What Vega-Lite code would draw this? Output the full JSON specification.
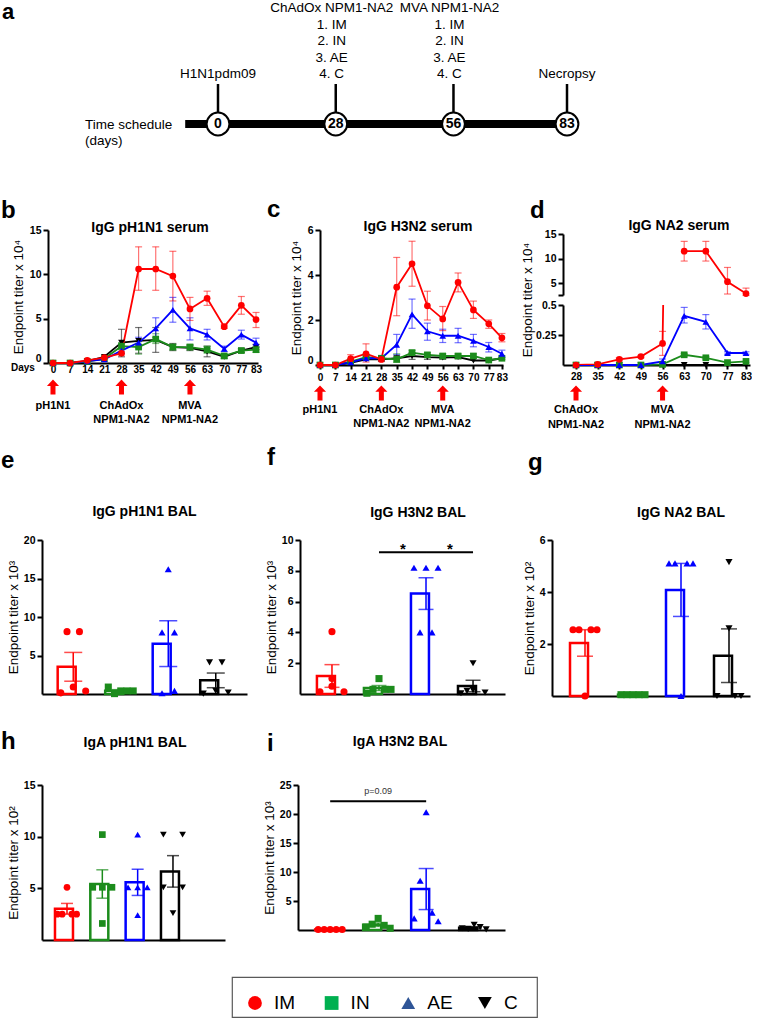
{
"$schema":"https://vega.github.io/schema/vega-lite/v6.json",
"background":"white",
"padding":0,
"spacing":0,
"bounds":"flush",
"resolve":{"scale":{"color":"independent","shape":"independent","stroke":"independent","xOffset":"independent"}},
"config":{
 "view":{"stroke":null},
 "font":"Liberation Sans",
 "axis":{"domainColor":"#000","domainWidth":2,"tickColor":"#000","tickWidth":2,"tickSize":5,"labelColor":"#000","labelFontWeight":"bold","labelFontSize":10.5,"labelFont":"Liberation Sans","grid":false,"titleColor":"#000","titleFont":"Liberation Sans","titleFontWeight":"normal","titleFontSize":13.5,"labelPadding":2,"labelFlush":false,"labelOverlap":false,"tickCount":50},
 "text":{"color":"#000"}
},
"datasets":{
 "tl":[{"day":0,"num":"0","top":"H1N1pdm09"},{"day":28,"num":"28","top":"ChAdOx NPM1-NA2\n1. IM\n2. IN\n3. AE\n4. C"},{"day":56,"num":"56","top":"MVA NPM1-NA2\n1. IM\n2. IN\n3. AE\n4. C"},{"day":83,"num":"83","top":"Necropsy"}],
 "arr_bc":[{"day":0,"label":"pH1N1"},{"day":28,"label":"ChAdOx\nNPM1-NA2"},{"day":56,"label":"MVA\nNPM1-NA2"}],
 "arr_d":[{"day":28,"label":"ChAdOx\nNPM1-NA2"},{"day":56,"label":"MVA\nNPM1-NA2"}],
 "b":[
  {"day":0,"g":"C","v":0},{"day":7,"g":"C","v":0},{"day":14,"g":"C","v":0.2},{"day":21,"g":"C","v":0.7},{"day":28,"g":"C","v":2.3,"lo":0.7,"hi":3.8},{"day":35,"g":"C","v":2.5,"lo":1.1,"hi":4.0},{"day":42,"g":"C","v":2.6,"lo":1.2,"hi":4.0},{"day":49,"g":"C","v":1.8,"lo":1.4,"hi":2.2},{"day":56,"g":"C","v":1.7,"lo":1.4,"hi":2.0},{"day":63,"g":"C","v":1.3,"lo":0.7,"hi":1.9},{"day":70,"g":"C","v":0.7,"lo":0.5,"hi":0.9},{"day":77,"g":"C","v":1.4,"lo":1.2,"hi":1.6},{"day":83,"g":"C","v":1.8,"lo":1.5,"hi":2.1},
  {"day":0,"g":"IN","v":0},{"day":7,"g":"IN","v":0},{"day":14,"g":"IN","v":0.15},{"day":21,"g":"IN","v":0.5},{"day":28,"g":"IN","v":1.9,"lo":1.5,"hi":2.3},{"day":35,"g":"IN","v":1.8,"lo":1.0,"hi":2.4},{"day":42,"g":"IN","v":2.7,"lo":2.2,"hi":3.3},{"day":49,"g":"IN","v":1.8,"lo":1.5,"hi":2.1},{"day":56,"g":"IN","v":1.8,"lo":1.5,"hi":2.1},{"day":63,"g":"IN","v":1.5,"lo":1.1,"hi":1.9},{"day":70,"g":"IN","v":0.8,"lo":0.6,"hi":1.0},{"day":77,"g":"IN","v":1.4,"lo":1.2,"hi":1.6},{"day":83,"g":"IN","v":1.5,"lo":1.2,"hi":1.8},
  {"day":0,"g":"AE","v":0},{"day":7,"g":"AE","v":0},{"day":14,"g":"AE","v":0.2},{"day":21,"g":"AE","v":0.4},{"day":28,"g":"AE","v":1.4,"lo":1.1,"hi":1.7},{"day":35,"g":"AE","v":2.3,"lo":1.7,"hi":2.9},{"day":42,"g":"AE","v":3.9,"lo":2.6,"hi":5.1},{"day":49,"g":"AE","v":6.0,"lo":4.6,"hi":7.4},{"day":56,"g":"AE","v":3.9,"lo":2.6,"hi":5.1},{"day":63,"g":"AE","v":3.2,"lo":2.6,"hi":3.8},{"day":70,"g":"AE","v":1.6,"lo":1.3,"hi":1.9},{"day":77,"g":"AE","v":3.2,"lo":2.7,"hi":3.7},{"day":83,"g":"AE","v":2.3,"lo":1.8,"hi":2.8},
  {"day":0,"g":"IM","v":0},{"day":7,"g":"IM","v":0},{"day":14,"g":"IM","v":0.3},{"day":21,"g":"IM","v":0.6},{"day":28,"g":"IM","v":1.1,"lo":0.9,"hi":1.3},{"day":35,"g":"IM","v":10.6,"lo":8.2,"hi":13.1},{"day":42,"g":"IM","v":10.6,"lo":8.2,"hi":13.1},{"day":49,"g":"IM","v":9.8,"lo":7.0,"hi":12.6},{"day":56,"g":"IM","v":6.1,"lo":4.8,"hi":7.4},{"day":63,"g":"IM","v":7.3,"lo":6.5,"hi":8.1},{"day":70,"g":"IM","v":4.1,"lo":3.9,"hi":4.3},{"day":77,"g":"IM","v":6.5,"lo":5.5,"hi":7.5},{"day":83,"g":"IM","v":4.9,"lo":4.0,"hi":5.7}
 ],
 "c":[
  {"day":0,"g":"C","v":0},{"day":7,"g":"C","v":0},{"day":14,"g":"C","v":0.1},{"day":21,"g":"C","v":0.25},{"day":28,"g":"C","v":0.25},{"day":35,"g":"C","v":0.3},{"day":42,"g":"C","v":0.4,"lo":0.25,"hi":0.55},{"day":49,"g":"C","v":0.35,"lo":0.25,"hi":0.45},{"day":56,"g":"C","v":0.33,"lo":0.25,"hi":0.42},{"day":63,"g":"C","v":0.35,"lo":0.28,"hi":0.42},{"day":70,"g":"C","v":0.2},{"day":77,"g":"C","v":0.2},{"day":83,"g":"C","v":0.3},
  {"day":0,"g":"IN","v":0},{"day":7,"g":"IN","v":0},{"day":14,"g":"IN","v":0.15},{"day":21,"g":"IN","v":0.35},{"day":28,"g":"IN","v":0.3},{"day":35,"g":"IN","v":0.25,"lo":0.12,"hi":0.5},{"day":42,"g":"IN","v":0.55,"lo":0.45,"hi":0.65},{"day":49,"g":"IN","v":0.45,"lo":0.35,"hi":0.55},{"day":56,"g":"IN","v":0.4,"lo":0.3,"hi":0.5},{"day":63,"g":"IN","v":0.4,"lo":0.3,"hi":0.5},{"day":70,"g":"IN","v":0.4,"lo":0.3,"hi":0.5},{"day":77,"g":"IN","v":0.22,"lo":0.18,"hi":0.26},{"day":83,"g":"IN","v":0.3,"lo":0.25,"hi":0.35},
  {"day":0,"g":"AE","v":0},{"day":7,"g":"AE","v":0},{"day":14,"g":"AE","v":0.12},{"day":21,"g":"AE","v":0.3},{"day":28,"g":"AE","v":0.3},{"day":35,"g":"AE","v":0.9,"lo":0.46,"hi":1.36},{"day":42,"g":"AE","v":2.25,"lo":1.63,"hi":2.93},{"day":49,"g":"AE","v":1.5,"lo":1.1,"hi":1.86},{"day":56,"g":"AE","v":1.3,"lo":1.0,"hi":1.59},{"day":63,"g":"AE","v":1.3,"lo":0.99,"hi":1.63},{"day":70,"g":"AE","v":1.07,"lo":0.81,"hi":1.36},{"day":77,"g":"AE","v":0.8,"lo":0.58,"hi":1.0},{"day":83,"g":"AE","v":0.5,"lo":0.33,"hi":0.66},
  {"day":0,"g":"IM","v":0},{"day":7,"g":"IM","v":0},{"day":14,"g":"IM","v":0.28,"lo":0.18,"hi":0.46},{"day":21,"g":"IM","v":0.5,"lo":0.13,"hi":0.94},{"day":28,"g":"IM","v":0.25,"lo":0.15,"hi":0.35},{"day":35,"g":"IM","v":3.46,"lo":2.19,"hi":4.78},{"day":42,"g":"IM","v":4.5,"lo":3.5,"hi":5.5},{"day":49,"g":"IM","v":2.63,"lo":2.0,"hi":3.28},{"day":56,"g":"IM","v":2.05,"lo":1.53,"hi":2.6},{"day":63,"g":"IM","v":3.67,"lo":3.25,"hi":4.09},{"day":70,"g":"IM","v":2.45,"lo":2.07,"hi":2.84},{"day":77,"g":"IM","v":1.83,"lo":1.63,"hi":2.0},{"day":83,"g":"IM","v":1.21,"lo":1.03,"hi":1.4}
 ],
 "d":[
  {"day":28,"g":"C","v":0},{"day":35,"g":"C","v":0},{"day":42,"g":"C","v":0},{"day":49,"g":"C","v":0},{"day":56,"g":"C","v":0},{"day":63,"g":"C","v":0},{"day":70,"g":"C","v":0},{"day":77,"g":"C","v":0},{"day":83,"g":"C","v":0},
  {"day":28,"g":"IN","v":0},{"day":35,"g":"IN","v":0},{"day":42,"g":"IN","v":0},{"day":49,"g":"IN","v":0},{"day":56,"g":"IN","v":0.005},{"day":63,"g":"IN","v":0.085,"lo":0.075,"hi":0.095},{"day":70,"g":"IN","v":0.06,"lo":0.05,"hi":0.07},{"day":77,"g":"IN","v":0.02},{"day":83,"g":"IN","v":0.03},
  {"day":28,"g":"AE","v":0},{"day":35,"g":"AE","v":0},{"day":42,"g":"AE","v":0},{"day":49,"g":"AE","v":0},{"day":56,"g":"AE","v":0.03,"lo":0.01,"hi":0.05},{"day":63,"g":"AE","v":0.41,"lo":0.35,"hi":0.48},{"day":70,"g":"AE","v":0.36,"lo":0.3,"hi":0.42},{"day":77,"g":"AE","v":0.1,"lo":0.09,"hi":0.11},{"day":83,"g":"AE","v":0.1,"lo":0.09,"hi":0.11},
  {"day":28,"g":"IM","v":0},{"day":35,"g":"IM","v":0.006},{"day":42,"g":"IM","v":0.047,"lo":0.035,"hi":0.06},{"day":49,"g":"IM","v":0.07,"lo":0.06,"hi":0.08},{"day":56,"g":"IM","v":0.18,"lo":0.08,"hi":0.28},{"day":63,"g":"IM","v":11.5,"lo":9.5,"hi":13.5},{"day":70,"g":"IM","v":11.5,"lo":9.5,"hi":13.5},{"day":77,"g":"IM","v":5.3,"lo":2.8,"hi":8.2},{"day":83,"g":"IM","v":2.9,"lo":2.5,"hi":4.0}
 ],
 "e":[
  {"g":"IM","k":0,"v":0.15},{"g":"IM","k":1,"v":8.1},{"g":"IM","k":2,"v":0.9},{"g":"IM","k":3,"v":8.1},{"g":"IM","k":4,"v":0.4},
  {"g":"IN","k":0,"v":0.9},{"g":"IN","k":1,"v":0.05},{"g":"IN","k":2,"v":0.4},{"g":"IN","k":3,"v":0.4},{"g":"IN","k":4,"v":0.4},
  {"g":"AE","k":2,"v":16.2},{"g":"AE","k":1,"v":8.0},{"g":"AE","k":3,"v":8.0},{"g":"AE","k":1,"v":0.1},{"g":"AE","k":3,"v":0.4},
  {"g":"C","k":1,"v":4.1},{"g":"C","k":3,"v":4.1},{"g":"C","k":0,"v":0.05},{"g":"C","k":2,"v":0.4},{"g":"C","k":4,"v":0.2}
 ],
 "f":[
  {"g":"IM","k":2,"v":4.05},{"g":"IM","k":2,"v":1.0},{"g":"IM","k":2,"v":0.5},{"g":"IM","k":0,"v":0.15},{"g":"IM","k":4,"v":0.15},
  {"g":"IN","k":2,"v":1.0},{"g":"IN","k":0,"v":0.05},{"g":"IN","k":1,"v":0.3},{"g":"IN","k":3,"v":0.3},{"g":"IN","k":4,"v":0.3},
  {"g":"AE","k":0,"v":8.2},{"g":"AE","k":2,"v":8.2},{"g":"AE","k":4,"v":8.2},{"g":"AE","k":1,"v":4.0},{"g":"AE","k":3,"v":4.0},
  {"g":"C","k":2,"v":2.0},{"g":"C","k":0,"v":0.05},{"g":"C","k":2,"v":0.25},{"g":"C","k":4,"v":0.1},{"g":"C","k":1,"v":0.2}
 ],
 "g":[
  {"g":"IM","k":0,"v":2.55},{"g":"IM","k":1,"v":2.55},{"g":"IM","k":3,"v":2.55},{"g":"IM","k":4,"v":2.55},{"g":"IM","k":2,"v":0.0},
  {"g":"IN","k":0,"v":0.05},{"g":"IN","k":1,"v":0.05},{"g":"IN","k":2,"v":0.05},{"g":"IN","k":3,"v":0.05},{"g":"IN","k":4,"v":0.05},
  {"g":"AE","k":0,"v":5.1},{"g":"AE","k":1,"v":5.1},{"g":"AE","k":3,"v":5.1},{"g":"AE","k":4,"v":5.1},{"g":"AE","k":2,"v":0.0},
  {"g":"C","k":2,"v":5.15},{"g":"C","k":2,"v":2.6},{"g":"C","k":0,"v":0.0},{"g":"C","k":3,"v":0.0},{"g":"C","k":4,"v":0.0}
 ],
 "h":[
  {"g":"IM","k":2,"v":5.1},{"g":"IM","k":0,"v":2.5},{"g":"IM","k":1,"v":2.5},{"g":"IM","k":3,"v":2.5},{"g":"IM","k":4,"v":2.5},
  {"g":"IN","k":2,"v":10.2},{"g":"IN","k":0,"v":5.1},{"g":"IN","k":2,"v":5.1},{"g":"IN","k":4,"v":5.1},{"g":"IN","k":2,"v":1.6},
  {"g":"AE","k":2,"v":10.2},{"g":"AE","k":0,"v":5.1},{"g":"AE","k":2,"v":5.1},{"g":"AE","k":4,"v":5.1},{"g":"AE","k":2,"v":2.4},
  {"g":"C","k":0,"v":10.2},{"g":"C","k":4,"v":10.2},{"g":"C","k":0,"v":5.1},{"g":"C","k":4,"v":5.1},{"g":"C","k":2,"v":2.6}
 ],
 "i":[
  {"g":"IM","k":0,"v":0.1},{"g":"IM","k":1,"v":0.1},{"g":"IM","k":2,"v":0.1},{"g":"IM","k":3,"v":0.1},{"g":"IM","k":4,"v":0.1},
  {"g":"IN","k":2,"v":2.0},{"g":"IN","k":0,"v":0.5},{"g":"IN","k":1,"v":1.0},{"g":"IN","k":3,"v":0.8},{"g":"IN","k":4,"v":0.3},
  {"g":"AE","k":2,"v":20.3},{"g":"AE","k":1,"v":8.5},{"g":"AE","k":3,"v":3.0},{"g":"AE","k":0,"v":2.0},{"g":"AE","k":4,"v":1.5},
  {"g":"C","k":2,"v":0.9},{"g":"C","k":0,"v":0.3},{"g":"C","k":1,"v":0.2},{"g":"C","k":3,"v":0.5},{"g":"C","k":4,"v":0.1}
 ],
 "sig_f":[{"from":"IN","to":"AE","v":9.2},{"from":"AE","to":"C","v":9.2}],
 "sig_i":[{"from":"IM","to":"AE","mid":"IN","v":22.2,"t":"p=0.09"}],
 "leg":[{"g":"IM","i":0},{"g":"IN","i":1},{"g":"AE","i":2},{"g":"C","i":3}]
},
"vconcat":[
 {"width":601,"height":230,"layer":[
  {"data":{"values":[{"from":-7.8,"to":83}]},"mark":{"type":"rule","strokeWidth":8,"color":"#000"},"encoding":{"x":{"field":"from","type":"quantitative","scale":{"domain":[-51.845,91.085],"nice":false,"zero":false},"axis":null},"x2":{"field":"to"},"y":{"datum":0,"type":"quantitative","scale":{"domain":[-3.533,4.133],"nice":false,"zero":false},"axis":null}}},
  {"data":{"name":"tl"},"mark":{"type":"rule","strokeWidth":2.5,"color":"#000"},"encoding":{"x":{"field":"day","type":"quantitative"},"y":{"datum":0},"y2":{"datum":1.333}}},
  {"data":{"name":"tl"},"mark":{"type":"point","shape":"circle","size":520,"fill":"white","stroke":"#000","strokeWidth":2,"opacity":1},"encoding":{"x":{"field":"day","type":"quantitative"},"y":{"datum":0}}},
  {"data":{"name":"tl"},"mark":{"type":"text","fontSize":14,"fontWeight":"bold"},"encoding":{"x":{"field":"day","type":"quantitative"},"y":{"datum":0},"text":{"field":"num"}}},
  {"data":{"name":"tl"},"transform":[{"filter":"datum.day == 28 || datum.day == 56"}],"mark":{"type":"text","fontSize":13.5,"baseline":"top","lineBreak":"\n","lineHeight":16.5,"dx":-4},"encoding":{"x":{"field":"day","type":"quantitative"},"y":{"datum":4.09},"text":{"field":"top"}}},
  {"data":{"name":"tl"},"transform":[{"filter":"datum.day == 0 || datum.day == 83"}],"mark":{"type":"text","fontSize":13.5,"baseline":"middle"},"encoding":{"x":{"field":"day","type":"quantitative"},"y":{"datum":1.667},"text":{"field":"top"}}},
  {"data":{"values":[{}]},"mark":{"type":"text","text":["Time schedule","(days)"],"fontSize":13.5,"align":"left","baseline":"top","lineHeight":16},"encoding":{"x":{"datum":-31.63},"y":{"datum":0.2}}},
  {"data":{"values":[{}]},"mark":{"type":"text","text":"a","fontSize":22,"fontWeight":"bold","align":"left","baseline":"top"},"encoding":{"x":{"datum":-51.37},"y":{"datum":4.08}}}
 ]},
 {"hconcat":[
  {"width":48,"height":1,"data":{"values":[]},"mark":"point"},
  {"width":210,"height":133,"layer":[
   {"data":{"name":"b"},"transform":[{"filter":"datum.lo != null"}],"mark":{"type":"errorbar","ticks":{"size":7},"thickness":1.2,"opacity":0.55},"encoding":{"x":{"field":"day","type":"quantitative","title":null,"scale":{"domain":[-2.04,83.81],"nice":false,"zero":false},"axis":{"values":[0,7,14,21,28,35,42,49,56,63,70,77,83],"tickCount":50,"ticks":false,"labelPadding":1,"labelFontSize":10,"labelOverlap":false}},"y":{"field":"lo","type":"quantitative","title":"Endpoint titer x 10⁴","scale":{"domain":[0,15],"nice":false,"zero":false},"axis":{"values":[0,5,10,15],"tickCount":50,"format":"d","titlePadding":4,"titleColor":"#000","labelColor":"#000","labelBaseline":{"condition":{"test":"datum.value == 0","value":"bottom"},"value":"middle"}}},"y2":{"field":"hi"},"color":{"field":"g","type":"nominal","scale":{"domain":["IM","IN","AE","C"],"range":["#ff0000","#1c8c1c","#0000ff","#000000"]},"legend":null}}},
   {"data":{"name":"b"},"mark":{"type":"line","strokeWidth":1.8},"encoding":{"x":{"field":"day","type":"quantitative","title":null},"y":{"field":"v","type":"quantitative","title":"Endpoint titer x 10⁴"},"color":{"field":"g","type":"nominal","scale":{"domain":["IM","IN","AE","C"],"range":["#ff0000","#1c8c1c","#0000ff","#000000"]},"legend":null}}},
   {"data":{"name":"b"},"mark":{"type":"point","filled":true,"size":45,"opacity":1},"encoding":{"x":{"field":"day","type":"quantitative","title":null},"y":{"field":"v","type":"quantitative","title":"Endpoint titer x 10⁴"},"color":{"field":"g","type":"nominal","scale":{"domain":["IM","IN","AE","C"],"range":["#ff0000","#1c8c1c","#0000ff","#000000"]},"legend":null},"shape":{"field":"g","type":"nominal","scale":{"domain":["IM","IN","AE","C"],"range":["circle","square","triangle-up","triangle-down"]},"legend":null}}},
   {"data":{"name":"arr_bc"},"mark":{"type":"point","shape":"M0,-1L0.8,-0.15L0.33,-0.15L0.33,1L-0.33,1L-0.33,-0.15L-0.8,-0.15Z","filled":true,"color":"#ff0000","size":230,"opacity":1},"encoding":{"x":{"field":"day","type":"quantitative","title":null},"y":{"datum":-2.71}}},
   {"data":{"name":"arr_bc"},"mark":{"type":"text","baseline":"top","fontSize":11,"fontWeight":"bold","lineBreak":"\n","lineHeight":14.5},"encoding":{"x":{"field":"day","type":"quantitative","title":null},"y":{"datum":-4.17},"text":{"field":"label"}}},
   {"data":{"values":[{}]},"mark":{"type":"text","text":"IgG pH1N1 serum","fontSize":14,"fontWeight":"bold"},"encoding":{"x":{"datum":39.66},"y":{"datum":15.23}}},
   {"data":{"values":[{}]},"mark":{"type":"text","text":"b","fontSize":24,"fontWeight":"bold","align":"left"},"encoding":{"x":{"datum":-21.25},"y":{"datum":17.14}}},
   {"data":{"values":[{}]},"mark":{"type":"text","text":"Days","fontSize":10,"fontWeight":"bold","align":"right"},"encoding":{"x":{"datum":-7.4},"y":{"datum":-0.6}}}
  ]},
  {"width":62,"height":1,"data":{"values":[]},"mark":"point"},
  {"width":183,"height":135,"layer":[
   {"data":{"name":"c"},"transform":[{"filter":"datum.lo != null"}],"mark":{"type":"errorbar","ticks":{"size":7},"thickness":1.2,"opacity":0.55},"encoding":{"x":{"field":"day","type":"quantitative","title":null,"scale":{"domain":[0,83.5],"nice":false,"zero":false},"axis":{"values":[0,7,14,21,28,35,42,49,56,63,70,77,83],"tickCount":50,"ticks":true,"tickSize":4,"labelPadding":3,"labelFontSize":10,"labelOverlap":false}},"y":{"field":"lo","type":"quantitative","title":"Endpoint titer x 10⁴","scale":{"domain":[0,6],"nice":false,"zero":false},"axis":{"values":[0,2,4,6],"tickCount":50,"format":"d","titlePadding":4,"titleColor":"#000","labelColor":"#000","labelBaseline":{"condition":{"test":"datum.value == 0","value":"bottom"},"value":"middle"}}},"y2":{"field":"hi"},"color":{"field":"g","type":"nominal","scale":{"domain":["IM","IN","AE","C"],"range":["#ff0000","#1c8c1c","#0000ff","#000000"]},"legend":null}}},
   {"data":{"name":"c"},"mark":{"type":"line","strokeWidth":1.8},"encoding":{"x":{"field":"day","type":"quantitative","title":null},"y":{"field":"v","type":"quantitative","title":"Endpoint titer x 10⁴"},"color":{"field":"g","type":"nominal","scale":{"domain":["IM","IN","AE","C"],"range":["#ff0000","#1c8c1c","#0000ff","#000000"]},"legend":null}}},
   {"data":{"name":"c"},"mark":{"type":"point","filled":true,"size":45,"opacity":1},"encoding":{"x":{"field":"day","type":"quantitative","title":null},"y":{"field":"v","type":"quantitative","title":"Endpoint titer x 10⁴"},"color":{"field":"g","type":"nominal","scale":{"domain":["IM","IN","AE","C"],"range":["#ff0000","#1c8c1c","#0000ff","#000000"]},"legend":null},"shape":{"field":"g","type":"nominal","scale":{"domain":["IM","IN","AE","C"],"range":["circle","square","triangle-up","triangle-down"]},"legend":null}}},
   {"data":{"name":"arr_bc"},"mark":{"type":"point","shape":"M0,-1L0.8,-0.15L0.33,-0.15L0.33,1L-0.33,1L-0.33,-0.15L-0.8,-0.15Z","filled":true,"color":"#ff0000","size":230,"opacity":1},"encoding":{"x":{"field":"day","type":"quantitative","title":null},"y":{"datum":-1.244}}},
   {"data":{"name":"arr_bc"},"mark":{"type":"text","baseline":"top","fontSize":11,"fontWeight":"bold","lineBreak":"\n","lineHeight":14.5},"encoding":{"x":{"field":"day","type":"quantitative","title":null},"y":{"datum":-1.733},"text":{"field":"label"}}},
   {"data":{"values":[{}]},"mark":{"type":"text","text":"IgG H3N2 serum","fontSize":14,"fontWeight":"bold"},"encoding":{"x":{"datum":44.7},"y":{"datum":6.13}}},
   {"data":{"values":[{}]},"mark":{"type":"text","text":"c","fontSize":24,"fontWeight":"bold","align":"left"},"encoding":{"x":{"datum":-24.2},"y":{"datum":6.89}}}
  ]},
  {"width":60,"height":1,"data":{"values":[]},"mark":"point"},
  {"vconcat":[
   {"width":1,"height":4,"data":{"values":[]},"mark":"point"},
   {"width":187,"height":61,"layer":[
    {"data":{"name":"d"},"transform":[{"filter":"datum.g == 'IM' && datum.day >= 63"}],"mark":{"type":"errorbar","ticks":{"size":7},"thickness":1.2,"opacity":0.55},"encoding":{"x":{"field":"day","type":"quantitative","title":null,"scale":{"domain":[23.79,84.29],"nice":false,"zero":false},"axis":null},"y":{"field":"lo","type":"quantitative","title":null,"scale":{"domain":[2.6,15],"nice":false,"zero":false},"axis":{"values":[2.6,5,10,15],"tickCount":50,"labelColor":"#000","labelExpr":"datum.value < 3 ? '' : format(datum.value, 'd')"}},"y2":{"field":"hi"},"color":{"field":"g","type":"nominal","scale":{"domain":["IM","IN","AE","C"],"range":["#ff0000","#1c8c1c","#0000ff","#000000"]},"legend":null}}},
    {"data":{"name":"d"},"transform":[{"filter":"datum.g == 'IM' && datum.day >= 63"}],"mark":{"type":"line","strokeWidth":1.8},"encoding":{"x":{"field":"day","type":"quantitative","title":null},"y":{"field":"v","type":"quantitative","title":null},"color":{"field":"g","type":"nominal","scale":{"domain":["IM","IN","AE","C"],"range":["#ff0000","#1c8c1c","#0000ff","#000000"]},"legend":null}}},
    {"data":{"name":"d"},"transform":[{"filter":"datum.g == 'IM' && datum.day >= 63"}],"mark":{"type":"point","filled":true,"size":45,"opacity":1},"encoding":{"x":{"field":"day","type":"quantitative","title":null},"y":{"field":"v","type":"quantitative","title":null},"color":{"field":"g","type":"nominal","scale":{"domain":["IM","IN","AE","C"],"range":["#ff0000","#1c8c1c","#0000ff","#000000"]},"legend":null},"shape":{"field":"g","type":"nominal","scale":{"domain":["IM","IN","AE","C"],"range":["circle","square","triangle-up","triangle-down"]},"legend":null}}},
    {"data":{"values":[{}]},"mark":{"type":"text","text":"IgG NA2 serum","fontSize":14,"fontWeight":"bold"},"encoding":{"x":{"datum":61.3},"y":{"datum":16.63}}},
    {"data":{"values":[{}]},"mark":{"type":"text","text":"d","fontSize":24,"fontWeight":"bold","align":"left"},"encoding":{"x":{"datum":13.1},"y":{"datum":19.68}}}
   ]},
   {"width":1,"height":10,"data":{"values":[]},"mark":"point"},
   {"width":187,"height":60,"layer":[
    {"data":{"name":"d"},"transform":[{"filter":"datum.lo != null && datum.hi <= 0.5"}],"mark":{"type":"errorbar","ticks":{"size":7},"thickness":1.2,"opacity":0.55},"encoding":{"x":{"field":"day","type":"quantitative","title":null,"scale":{"domain":[23.79,84.29],"nice":false,"zero":false},"axis":{"values":[28,35,42,49,56,63,70,77,83],"tickCount":50,"ticks":true,"tickSize":4,"labelPadding":2,"labelFontSize":10,"labelOverlap":false}},"y":{"field":"lo","type":"quantitative","title":null,"scale":{"domain":[0,0.5],"nice":false,"zero":false},"axis":{"values":[0.25,0.5],"tickCount":50,"labelColor":"#000","labelExpr":"datum.value == 0.5 ? '0.5' : '0.25'"}},"y2":{"field":"hi"},"color":{"field":"g","type":"nominal","scale":{"domain":["IM","IN","AE","C"],"range":["#ff0000","#1c8c1c","#0000ff","#000000"]},"legend":null}}},
    {"data":{"name":"d"},"transform":[{"filter":"datum.g != 'IM'"}],"mark":{"type":"line","strokeWidth":1.8},"encoding":{"x":{"field":"day","type":"quantitative","title":null},"y":{"field":"v","type":"quantitative","title":null},"color":{"field":"g","type":"nominal","scale":{"domain":["IM","IN","AE","C"],"range":["#ff0000","#1c8c1c","#0000ff","#000000"]},"legend":null}}},
    {"data":{"name":"d"},"transform":[{"filter":"datum.g == 'IM' && datum.day <= 63"}],"mark":{"type":"line","strokeWidth":1.8,"clip":true},"encoding":{"x":{"field":"day","type":"quantitative","title":null},"y":{"field":"v","type":"quantitative","title":null},"color":{"field":"g","type":"nominal","scale":{"domain":["IM","IN","AE","C"],"range":["#ff0000","#1c8c1c","#0000ff","#000000"]},"legend":null}}},
    {"data":{"name":"d"},"transform":[{"filter":"datum.v <= 0.5"}],"mark":{"type":"point","filled":true,"size":45,"opacity":1},"encoding":{"x":{"field":"day","type":"quantitative","title":null},"y":{"field":"v","type":"quantitative","title":null},"color":{"field":"g","type":"nominal","scale":{"domain":["IM","IN","AE","C"],"range":["#ff0000","#1c8c1c","#0000ff","#000000"]},"legend":null},"shape":{"field":"g","type":"nominal","scale":{"domain":["IM","IN","AE","C"],"range":["circle","square","triangle-up","triangle-down"]},"legend":null}}},
    {"data":{"name":"arr_d"},"mark":{"type":"point","shape":"M0,-1L0.8,-0.15L0.33,-0.15L0.33,1L-0.33,1L-0.33,-0.15L-0.8,-0.15Z","filled":true,"color":"#ff0000","size":230,"opacity":1},"encoding":{"x":{"field":"day","type":"quantitative","title":null},"y":{"datum":-0.233}}},
    {"data":{"name":"arr_d"},"mark":{"type":"text","baseline":"top","fontSize":11,"fontWeight":"bold","lineBreak":"\n","lineHeight":14.5},"encoding":{"x":{"field":"day","type":"quantitative","title":null},"y":{"datum":-0.325},"text":{"field":"label"}}},
    {"data":{"values":[{}]},"mark":{"type":"text","text":"Endpoint titer x 10⁴","fontSize":13.5,"angle":270,"color":"#000"},"encoding":{"x":{"datum":12.46},"y":{"datum":0.542}}}
   ]}
  ],"spacing":0,"bounds":"flush","resolve":{"scale":{"color":"independent","shape":"independent","xOffset":"independent"}}}
 ],"spacing":0,"bounds":"flush","resolve":{"scale":{"color":"independent","shape":"independent","xOffset":"independent"}}},
 {"width":1,"height":310,"data":{"values":[]},"mark":"point"},
 {"hconcat":[
  {"width":42,"height":1,"data":{"values":[]},"mark":"point"},
  {"width":205,"height":154,"data":{"name":"e"},"layer":[
   {"mark":{"type":"bar","fill":"white","strokeWidth":2.5},"encoding":{"x":{"field":"g","type":"nominal","title":null,"scale":{"domain":["IM","IN","AE","C"],"paddingInner":0.345,"paddingOuter":0.33,"align":0.5},"axis":{"labels":false,"ticks":false}},"y":{"aggregate":"mean","field":"v","type":"quantitative","title":"Endpoint titer x 10³","scale":{"domain":[0,20],"nice":false},"axis":{"values":[5,10,15,20],"tickCount":50,"format":"d","titlePadding":3,"titleColor":"#000","labelColor":"#000"}},"stroke":{"field":"g","type":"nominal","scale":{"domain":["IM","IN","AE","C"],"range":["#ff0000","#1c8c1c","#0000ff","#000000"]},"legend":null}}},
   {"mark":{"type":"errorbar","extent":"stderr","ticks":{"size":18},"thickness":1.5},"encoding":{"x":{"field":"g","type":"nominal","title":null},"y":{"field":"v","type":"quantitative","title":"Endpoint titer x 10³"},"color":{"field":"g","type":"nominal","scale":{"domain":["IM","IN","AE","C"],"range":["#ff0000","#1c8c1c","#0000ff","#000000"]},"legend":null}}},
   {"mark":{"type":"point","filled":true,"size":50,"opacity":1},"encoding":{"x":{"field":"g","type":"nominal","title":null},"xOffset":{"field":"k","type":"ordinal","scale":{"domain":[0,1,2,3,4]}},"y":{"field":"v","type":"quantitative","title":"Endpoint titer x 10³"},"color":{"field":"g","type":"nominal","scale":{"domain":["IM","IN","AE","C"],"range":["#ff0000","#1c8c1c","#0000ff","#000000"]},"legend":null},"shape":{"field":"g","type":"nominal","scale":{"domain":["IM","IN","AE","C"],"range":["circle","square","triangle-up","triangle-down"]},"legend":null}}},
   {"data":{"values":[{}]},"mark":{"type":"text","text":"IgG pH1N1 BAL","fontSize":14,"fontWeight":"bold"},"encoding":{"y":{"datum":23.64}}},
   {"data":{"values":[{}]},"mark":{"type":"text","text":"e","fontSize":24,"fontWeight":"bold","align":"left","dx":-143.5},"encoding":{"y":{"datum":30.26}}}
  ]},
  {"width":53,"height":1,"data":{"values":[]},"mark":"point"},
  {"width":205,"height":154,"data":{"name":"f"},"layer":[
   {"mark":{"type":"bar","fill":"white","strokeWidth":2.5},"encoding":{"x":{"field":"g","type":"nominal","title":null,"scale":{"domain":["IM","IN","AE","C"],"paddingInner":0.36,"paddingOuter":0.36,"align":0.5},"axis":{"labels":false,"ticks":false}},"y":{"aggregate":"mean","field":"v","type":"quantitative","title":"Endpoint titer x 10³","scale":{"domain":[0,10],"nice":false},"axis":{"values":[2,4,6,8,10],"tickCount":50,"format":"d","titlePadding":3,"titleColor":"#000","labelColor":"#000"}},"stroke":{"field":"g","type":"nominal","scale":{"domain":["IM","IN","AE","C"],"range":["#ff0000","#1c8c1c","#0000ff","#000000"]},"legend":null}}},
   {"mark":{"type":"errorbar","extent":"stderr","ticks":{"size":15},"thickness":1.5},"encoding":{"x":{"field":"g","type":"nominal","title":null},"y":{"field":"v","type":"quantitative","title":"Endpoint titer x 10³"},"color":{"field":"g","type":"nominal","scale":{"domain":["IM","IN","AE","C"],"range":["#ff0000","#1c8c1c","#0000ff","#000000"]},"legend":null}}},
   {"mark":{"type":"point","filled":true,"size":50,"opacity":1},"encoding":{"x":{"field":"g","type":"nominal","title":null},"xOffset":{"field":"k","type":"ordinal","scale":{"domain":[0,1,2,3,4]}},"y":{"field":"v","type":"quantitative","title":"Endpoint titer x 10³"},"color":{"field":"g","type":"nominal","scale":{"domain":["IM","IN","AE","C"],"range":["#ff0000","#1c8c1c","#0000ff","#000000"]},"legend":null},"shape":{"field":"g","type":"nominal","scale":{"domain":["IM","IN","AE","C"],"range":["circle","square","triangle-up","triangle-down"]},"legend":null}}},
   {"data":{"name":"sig_f"},"mark":{"type":"rule","strokeWidth":2,"color":"#000"},"encoding":{"x":{"field":"from","type":"nominal","title":null},"x2":{"field":"to"},"y":{"field":"v","type":"quantitative","title":"Endpoint titer x 10³"}}},
   {"data":{"name":"sig_f"},"mark":{"type":"text","text":"*","fontSize":15,"fontWeight":"bold","dx":24,"dy":-3},"encoding":{"x":{"field":"from","type":"nominal","title":null},"y":{"field":"v","type":"quantitative","title":"Endpoint titer x 10³"}}},
   {"data":{"values":[{}]},"mark":{"type":"text","text":"IgG H3N2 BAL","fontSize":14,"fontWeight":"bold","dx":15.5},"encoding":{"y":{"datum":11.75}}},
   {"data":{"values":[{}]},"mark":{"type":"text","text":"f","fontSize":24,"fontWeight":"bold","align":"left","dx":-135.5},"encoding":{"y":{"datum":15.3}}}
  ]},
  {"width":47,"height":1,"data":{"values":[]},"mark":"point"},
  {"width":198,"height":156,"data":{"name":"g"},"layer":[
   {"mark":{"type":"bar","fill":"white","strokeWidth":2.5},"encoding":{"x":{"field":"g","type":"nominal","title":null,"scale":{"domain":["IM","IN","AE","C"],"paddingInner":0.375,"paddingOuter":0.25,"align":0.75},"axis":{"labels":false,"ticks":false}},"y":{"aggregate":"mean","field":"v","type":"quantitative","title":"Endpoint titer x 10²","scale":{"domain":[0,6],"nice":false},"axis":{"values":[2,4,6],"tickCount":50,"format":"d","titlePadding":3,"titleColor":"#000","labelColor":"#000"}},"stroke":{"field":"g","type":"nominal","scale":{"domain":["IM","IN","AE","C"],"range":["#ff0000","#1c8c1c","#0000ff","#000000"]},"legend":null}}},
   {"mark":{"type":"errorbar","extent":"stderr","ticks":{"size":16},"thickness":1.5},"encoding":{"x":{"field":"g","type":"nominal","title":null},"y":{"field":"v","type":"quantitative","title":"Endpoint titer x 10²"},"color":{"field":"g","type":"nominal","scale":{"domain":["IM","IN","AE","C"],"range":["#ff0000","#1c8c1c","#0000ff","#000000"]},"legend":null}}},
   {"mark":{"type":"point","filled":true,"size":50,"opacity":1},"encoding":{"x":{"field":"g","type":"nominal","title":null},"xOffset":{"field":"k","type":"ordinal","scale":{"domain":[0,1,2,3,4]}},"y":{"field":"v","type":"quantitative","title":"Endpoint titer x 10²"},"color":{"field":"g","type":"nominal","scale":{"domain":["IM","IN","AE","C"],"range":["#ff0000","#1c8c1c","#0000ff","#000000"]},"legend":null},"shape":{"field":"g","type":"nominal","scale":{"domain":["IM","IN","AE","C"],"range":["circle","square","triangle-up","triangle-down"]},"legend":null}}},
   {"data":{"values":[{}]},"mark":{"type":"text","text":"IgG NA2 BAL","fontSize":14,"fontWeight":"bold","dx":30},"encoding":{"y":{"datum":7.04}}},
   {"data":{"values":[{}]},"mark":{"type":"text","text":"g","fontSize":24,"fontWeight":"bold","align":"left","dx":-123},"encoding":{"y":{"datum":8.96}}}
  ]}
 ],"spacing":0,"bounds":"flush","resolve":{"scale":{"color":"independent","shape":"independent","stroke":"independent","xOffset":"independent"}}},
 {"width":1,"height":245,"data":{"values":[]},"mark":"point"},
 {"hconcat":[
  {"width":42,"height":1,"data":{"values":[]},"mark":"point"},
  {"width":183,"height":155,"data":{"name":"h"},"layer":[
   {"mark":{"type":"bar","fill":"white","strokeWidth":2.5},"encoding":{"x":{"field":"g","type":"nominal","title":null,"scale":{"domain":["IM","IN","AE","C"],"paddingInner":0.32,"paddingOuter":0.75,"align":0.245},"axis":{"labels":false,"ticks":false}},"y":{"aggregate":"mean","field":"v","type":"quantitative","title":"Endpoint titer x 10²","scale":{"domain":[0,15],"nice":false},"axis":{"values":[5,10,15],"tickCount":50,"format":"d","titlePadding":3,"titleColor":"#000","labelColor":"#000"}},"stroke":{"field":"g","type":"nominal","scale":{"domain":["IM","IN","AE","C"],"range":["#ff0000","#1c8c1c","#0000ff","#000000"]},"legend":null}}},
   {"mark":{"type":"errorbar","extent":"stderr","ticks":{"size":12},"thickness":1.5},"encoding":{"x":{"field":"g","type":"nominal","title":null},"y":{"field":"v","type":"quantitative","title":"Endpoint titer x 10²"},"color":{"field":"g","type":"nominal","scale":{"domain":["IM","IN","AE","C"],"range":["#ff0000","#1c8c1c","#0000ff","#000000"]},"legend":null}}},
   {"mark":{"type":"point","filled":true,"size":45,"opacity":1},"encoding":{"x":{"field":"g","type":"nominal","title":null},"xOffset":{"field":"k","type":"ordinal","scale":{"domain":[0,1,2,3,4]}},"y":{"field":"v","type":"quantitative","title":"Endpoint titer x 10²"},"color":{"field":"g","type":"nominal","scale":{"domain":["IM","IN","AE","C"],"range":["#ff0000","#1c8c1c","#0000ff","#000000"]},"legend":null},"shape":{"field":"g","type":"nominal","scale":{"domain":["IM","IN","AE","C"],"range":["circle","square","triangle-up","triangle-down"]},"legend":null}}},
   {"data":{"values":[{}]},"mark":{"type":"text","text":"IgA pH1N1 BAL","fontSize":14,"fontWeight":"bold","dx":1.5},"encoding":{"y":{"datum":19.07}}},
   {"data":{"values":[{}]},"mark":{"type":"text","text":"h","fontSize":24,"fontWeight":"bold","align":"left","dx":-132.5},"encoding":{"y":{"datum":19.16}}}
  ]},
  {"width":73,"height":1,"data":{"values":[]},"mark":"point"},
  {"width":207,"height":145,"data":{"name":"i"},"layer":[
   {"mark":{"type":"bar","fill":"white","strokeWidth":2.5},"encoding":{"x":{"field":"g","type":"nominal","title":null,"scale":{"domain":["IM","IN","AE","C"],"paddingInner":0.375,"paddingOuter":0.344,"align":0.52},"axis":{"labels":false,"ticks":false}},"y":{"aggregate":"mean","field":"v","type":"quantitative","title":"Endpoint titer x 10³","scale":{"domain":[0,25],"nice":false},"axis":{"values":[5,10,15,20,25],"tickCount":50,"format":"d","titlePadding":3,"titleColor":"#000","labelColor":"#000"}},"stroke":{"field":"g","type":"nominal","scale":{"domain":["IM","IN","AE","C"],"range":["#ff0000","#1c8c1c","#0000ff","#000000"]},"legend":null}}},
   {"mark":{"type":"errorbar","extent":"stderr","ticks":{"size":15},"thickness":1.5},"encoding":{"x":{"field":"g","type":"nominal","title":null},"y":{"field":"v","type":"quantitative","title":"Endpoint titer x 10³"},"color":{"field":"g","type":"nominal","scale":{"domain":["IM","IN","AE","C"],"range":["#ff0000","#1c8c1c","#0000ff","#000000"]},"legend":null}}},
   {"mark":{"type":"point","filled":true,"size":50,"opacity":1},"encoding":{"x":{"field":"g","type":"nominal","title":null},"xOffset":{"field":"k","type":"ordinal","scale":{"domain":[0,1,2,3,4]}},"y":{"field":"v","type":"quantitative","title":"Endpoint titer x 10³"},"color":{"field":"g","type":"nominal","scale":{"domain":["IM","IN","AE","C"],"range":["#ff0000","#1c8c1c","#0000ff","#000000"]},"legend":null},"shape":{"field":"g","type":"nominal","scale":{"domain":["IM","IN","AE","C"],"range":["circle","square","triangle-up","triangle-down"]},"legend":null}}},
   {"data":{"name":"sig_i"},"mark":{"type":"rule","strokeWidth":2,"color":"#000"},"encoding":{"x":{"field":"from","type":"nominal","title":null},"x2":{"field":"to"},"y":{"field":"v","type":"quantitative","title":"Endpoint titer x 10³"}}},
   {"data":{"name":"sig_i"},"mark":{"type":"text","fontSize":9,"color":"#333","dy":-10},"encoding":{"x":{"field":"mid","type":"nominal","title":null},"y":{"field":"v","type":"quantitative","title":"Endpoint titer x 10³"},"text":{"field":"t"}}},
   {"data":{"values":[{}]},"mark":{"type":"text","text":"IgA H3N2 BAL","fontSize":14,"fontWeight":"bold","dx":-1.5},"encoding":{"y":{"datum":32.4}}},
   {"data":{"values":[{}]},"mark":{"type":"text","text":"i","fontSize":24,"fontWeight":"bold","align":"left","dx":-134.5},"encoding":{"y":{"datum":32.07}}}
  ]}
 ],"spacing":0,"bounds":"flush","resolve":{"scale":{"color":"independent","shape":"independent","stroke":"independent","xOffset":"independent"}}},
 {"width":1,"height":192,"data":{"values":[]},"mark":"point"},
 {"hconcat":[
  {"width":232,"height":1,"data":{"values":[]},"mark":"point"},
  {"width":305,"height":40,"view":{"stroke":"#595959","strokeWidth":1.2},"data":{"name":"leg"},"layer":[
   {"mark":{"type":"point","filled":true,"size":190,"opacity":1},"encoding":{"x":{"field":"i","type":"quantitative","scale":{"domain":[-0.3,3.68],"nice":false,"zero":false},"axis":null},"y":{"datum":-0.3,"type":"quantitative","scale":{"domain":[-1,1]},"axis":null},"color":{"field":"g","type":"nominal","scale":{"domain":["IM","IN","AE","C"],"range":["#ff0000","#00b050","#2f5597","#000000"]},"legend":null},"shape":{"field":"g","type":"nominal","scale":{"domain":["IM","IN","AE","C"],"range":["circle","square","triangle-up","triangle-down"]},"legend":null}}},
   {"mark":{"type":"text","align":"left","dx":19,"fontSize":19,"color":"#000"},"encoding":{"x":{"field":"i","type":"quantitative"},"y":{"datum":-0.3},"text":{"field":"g"}}}
  ]}
 ],"spacing":0,"bounds":"flush"}
]
}
